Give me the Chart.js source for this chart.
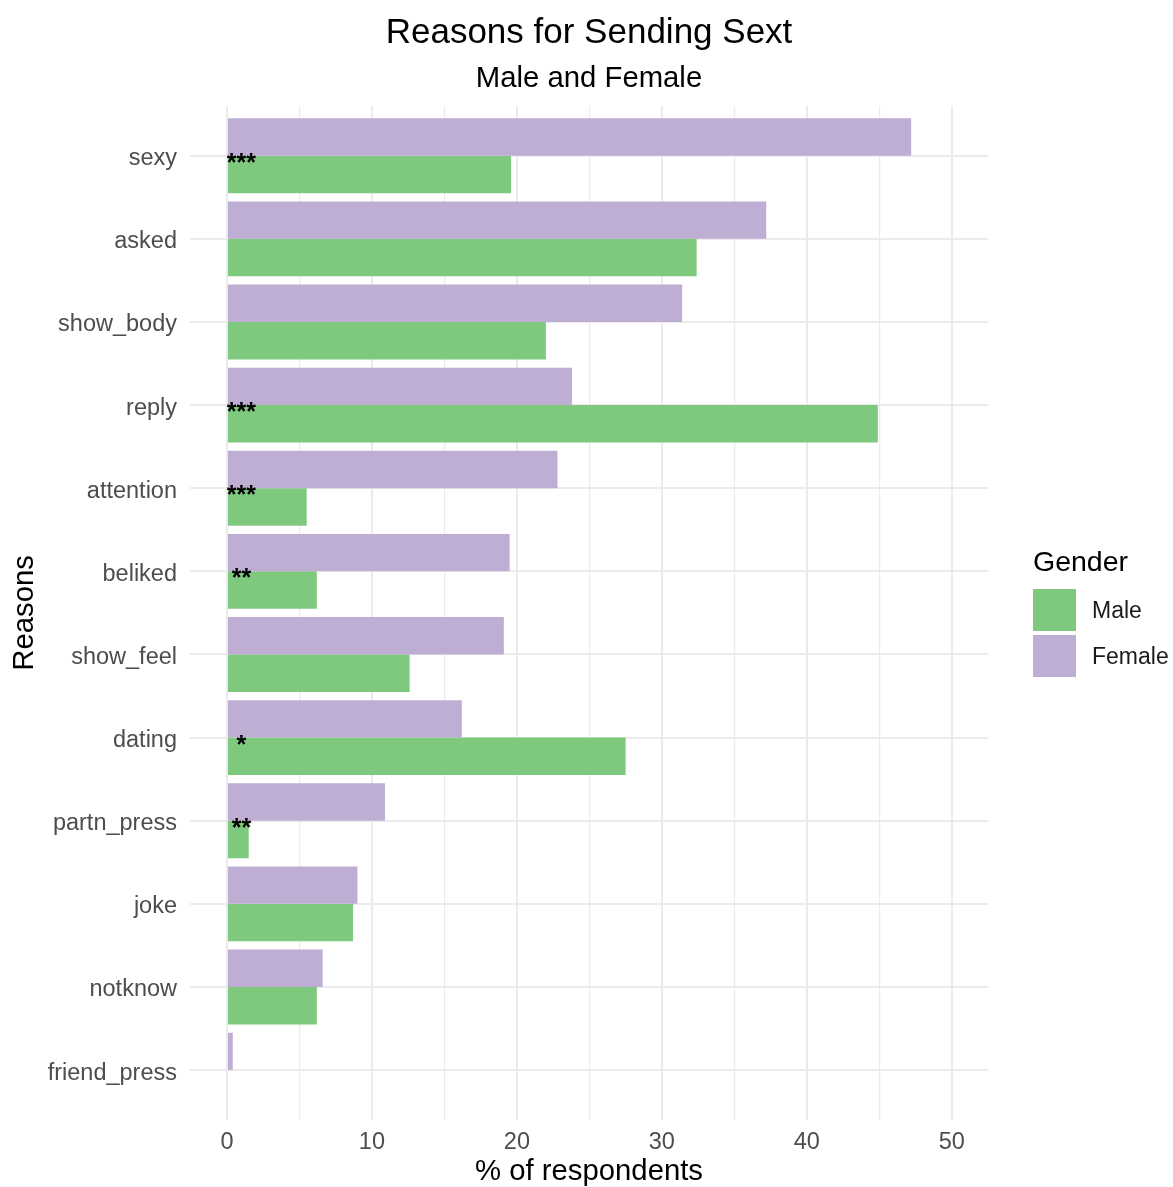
<!DOCTYPE html>
<html>
<head>
<meta charset="utf-8">
<title>Reasons for Sending Sext</title>
<script src="https://cdn.jsdelivr.net/npm/chart.js@4/dist/chart.umd.min.js"></script>
<style>
  html, body { margin: 0; padding: 0; background: #ffffff; }
  canvas { display: block; }
</style>
</head>
<body>
<canvas id="chart" width="1173" height="1187"></canvas>
<script>
// Survey reasons, top to bottom
const reasons = ['sexy', 'asked', 'show_body', 'reply', 'attention', 'beliked',
                 'show_feel', 'dating', 'partn_press', 'joke', 'notknow', 'friend_press'];
// % of respondents giving each reason
const femalePct = [47.2, 37.2, 31.4, 23.8, 22.8, 19.5, 19.1, 16.2, 10.9, 9.0, 6.6, 0.4];
const malePct   = [19.6, 32.4, 22.0, 44.9, 5.5, 6.2, 12.6, 27.5, 1.5, 8.7, 6.2, 0];
// significance of the gender difference
const signif = ['***', '', '', '***', '***', '**', '', '*', '**', '', '', ''];
const signifX = 1;          // where the stars sit on the value axis
const legendOrder = ['Male', 'Female'];

const FONT = "'Liberation Sans', Arial, Helvetica, sans-serif";
const GRID = '#EBEBEB';
const TICK = '#4D4D4D';
const colours = { Male: '#7FC97F', Female: '#BEAED4' };

Chart.defaults.font.family = FONT;

// bars are placed on a numeric index axis so the category padding can be 0.6
const toPoints = vals => vals.map((v, i) => ({ x: v, y: i }));

const starsPlugin = {
  id: 'stars',
  afterDatasetsDraw(chart) {
    const { ctx, scales: { x, y } } = chart;
    ctx.save();
    ctx.fillStyle = '#000000';
    ctx.font = `bold 25px ${FONT}`;
    ctx.textAlign = 'center';
    ctx.textBaseline = 'alphabetic';
    signif.forEach((s, i) => {
      if (!s) return;
      ctx.fillText(s, x.getPixelForValue(signifX), y.getPixelForValue(i) + 15);
    });
    ctx.restore();
  }
};

const legendPlugin = {
  id: 'genderLegend',
  afterDraw(chart) {
    const { ctx } = chart;
    const left = 1033, keyW = 43, keyH = 42, gap = 4;
    let top = 589;
    ctx.save();
    ctx.fillStyle = '#000000';
    ctx.font = `28.5px ${FONT}`;
    ctx.textAlign = 'left';
    ctx.textBaseline = 'alphabetic';
    ctx.fillText('Gender', left, 571);
    ctx.font = `23px ${FONT}`;
    ctx.textBaseline = 'middle';
    legendOrder.forEach(name => {
      const ds = chart.data.datasets.find(d => d.label === name);
      ctx.fillStyle = ds.backgroundColor;
      ctx.fillRect(left, top, keyW, keyH);
      ctx.fillStyle = '#1A1A1A';
      ctx.fillText(name, 1092, top + keyH / 2 + 2);
      top += keyH + gap;
    });
    ctx.restore();
  }
};

new Chart(document.getElementById('chart'), {
  type: 'bar',
  data: {
    datasets: [
      { label: 'Female', data: toPoints(femalePct), backgroundColor: colours.Female, borderWidth: 0 },
      { label: 'Male',   data: toPoints(malePct),   backgroundColor: colours.Male,   borderWidth: 0 }
    ]
  },
  options: {
    indexAxis: 'y',
    responsive: false,
    animation: false,
    devicePixelRatio: 1,
    categoryPercentage: 0.9,
    barPercentage: 1.0,
    layout: { padding: { top: 0, right: 185, bottom: 0, left: 0 } },
    plugins: {
      legend: { display: false },
      tooltip: { enabled: false },
      title: {
        display: true,
        text: 'Reasons for Sending Sext',
        fullSize: false,
        color: '#000000',
        font: { size: 35, weight: 'normal', lineHeight: 1.2 },
        padding: { top: 12, bottom: 7 }
      },
      subtitle: {
        display: true,
        text: 'Male and Female',
        fullSize: false,
        color: '#000000',
        font: { size: 29.3, weight: 'normal', lineHeight: 1.2 },
        padding: { top: 0, bottom: 9.7 }
      }
    },
    scales: {
      x: {
        type: 'linear',
        position: 'bottom',
        min: -2.55,
        max: 52.5,
        offset: false,
        border: { display: false },
        grid: {
          color: GRID,
          offset: false,
          drawTicks: false,
          lineWidth: ctx => (ctx.tick && ctx.tick.value % 10 === 0 ? 2 : 1.2)
        },
        ticks: {
          stepSize: 5,
          includeBounds: false,
          padding: 8,
          color: TICK,
          font: { size: 23.5 },
          maxRotation: 0,
          autoSkip: false,
          callback: v => (v % 10 === 0 ? String(v) : '')
        },
        title: {
          display: true,
          text: '% of respondents',
          color: '#000000',
          font: { size: 29.3, lineHeight: 1 },
          padding: { top: 0, bottom: 0 }
        },
        afterFit: scale => { scale.height = 67; }
      },
      y: {
        type: 'linear',
        position: 'left',
        reverse: true,
        min: -0.6,
        max: reasons.length - 1 + 0.6,
        offset: false,
        border: { display: false },
        grid: { color: GRID, lineWidth: 2, drawTicks: false, offset: false },
        ticks: {
          stepSize: 1,
          includeBounds: false,
          padding: 13,
          labelOffset: 3,
          color: TICK,
          font: { size: 23.5 },
          autoSkip: false,
          callback: v => reasons[v] ?? ''
        },
        title: {
          display: true,
          text: 'Reasons',
          color: '#000000',
          font: { size: 29.3, lineHeight: 1 },
          padding: { top: 10, bottom: 0 }
        },
        afterFit: scale => { scale.width = 190; }
      }
    }
  },
  plugins: [starsPlugin, legendPlugin]
});
</script>
</body>
</html>
